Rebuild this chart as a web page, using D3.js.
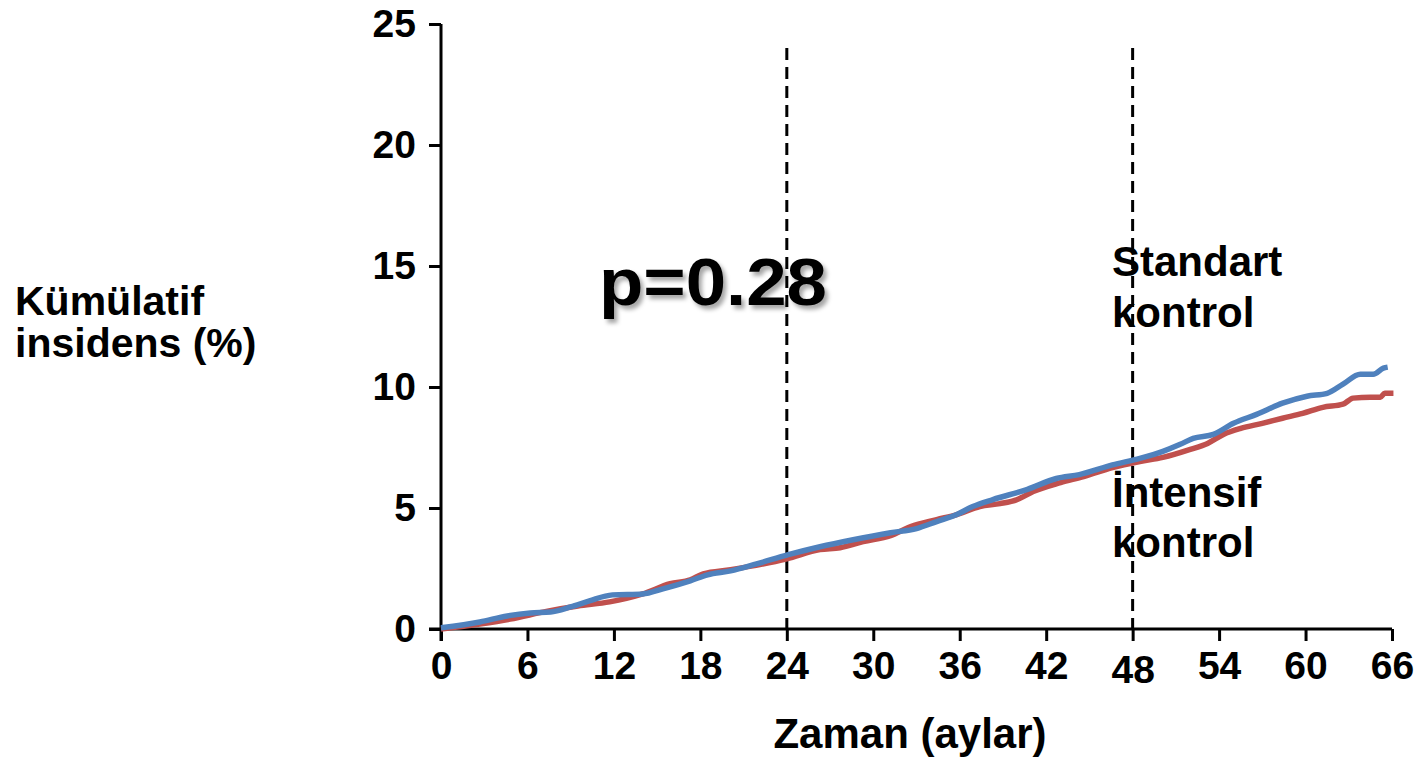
<!DOCTYPE html>
<html>
<head>
<meta charset="utf-8">
<script src="https://cdn.jsdelivr.net/npm/d3@7/dist/d3.min.js"></script>
<style>
  html, body { margin: 0; padding: 0; background: #fff; }
  svg { display: block; font-family: "Liberation Sans", Arial, Helvetica, sans-serif; font-weight: bold; }
</style>
</head>
<body>
<svg id="chart" width="1422" height="776"></svg>
<script>
// Cumulative incidence (%) over follow-up time (months)
const xTicks = [0, 6, 12, 18, 24, 30, 36, 42, 48, 54, 60, 66];
const yTicks = [0, 5, 10, 15, 20, 25];
const markerMonths = [24, 48];

// Standard control arm
const standardMonths = [0, 2.7, 4.6, 6.2, 7.6, 9.0, 10.3, 11.9, 14.0, 15.4, 17.3, 18.5, 20.1, 21.9, 24.1,
  26.3, 28.6, 31.2, 33.0, 34.4, 35.8, 36.9, 38.3, 40.7, 42.7, 44.3, 46.6, 48.5, 50.1, 51.3, 52.2,
  53.6, 55.0, 56.6, 58.4, 60.1, 61.5, 62.6, 63.8, 64.7, 65.4, 65.7];
const standardValues = [0.05, 0.29, 0.54, 0.66, 0.70, 0.91, 1.16, 1.41, 1.45, 1.66, 1.99, 2.24, 2.40, 2.69, 3.07,
  3.40, 3.69, 3.98, 4.15, 4.44, 4.73, 5.06, 5.35, 5.77, 6.22, 6.38, 6.78, 7.05, 7.34, 7.63, 7.88,
  8.04, 8.50, 8.87, 9.33, 9.62, 9.74, 10.12, 10.53, 10.53, 10.78, 10.82];

// Intensive control arm
const intensiveMonths = [0, 2.7, 4.8, 7.4, 9.5, 11.7, 14.0, 15.9, 17.3, 18.2, 20.1, 24.0, 26.3, 27.7, 29.3,
  31.2, 32.6, 34.4, 35.8, 37.4, 38.8, 40.0, 41.1, 43.0, 44.6, 46.6, 48.5, 50.1, 52.0, 53.2, 54.3,
  55.5, 57.0, 58.4, 59.8, 61.2, 62.6, 63.3, 64.5, 65.2, 65.5, 66.1];
const intensiveValues = [0, 0.21, 0.41, 0.74, 0.95, 1.12, 1.45, 1.87, 2.03, 2.28, 2.45, 2.90, 3.28, 3.36, 3.61,
  3.86, 4.23, 4.52, 4.73, 5.06, 5.18, 5.35, 5.68, 6.05, 6.30, 6.67, 6.92, 7.09, 7.42, 7.67, 8.04,
  8.29, 8.50, 8.71, 8.91, 9.16, 9.29, 9.54, 9.58, 9.58, 9.74, 9.74];

const svg = d3.select("#chart");

const x = d3.scaleLinear().domain([0, 66]).range([441, 1392]);
const y = d3.scaleLinear().domain([0, 25]).range([629, 24]);

const defs = svg.append("defs");
const shadow = defs.append("filter").attr("id", "soft-shadow")
  .attr("x", "-10%").attr("y", "-20%").attr("width", "130%").attr("height", "150%");
shadow.append("feDropShadow")
  .attr("dx", 3).attr("dy", 4).attr("stdDeviation", 2)
  .attr("flood-color", "#000").attr("flood-opacity", 0.35);

// Axes
const xAxis = d3.axisBottom(x).tickValues(xTicks).tickSize(12).tickSizeOuter(0).tickPadding(10);
const yAxis = d3.axisLeft(y).tickValues(yTicks).tickSize(12).tickSizeOuter(0).tickPadding(13);

const gx = svg.append("g").attr("transform", `translate(0,${y(0)})`).call(xAxis);
const gy = svg.append("g").attr("transform", `translate(${x(0)},0)`).call(yAxis);

[gx, gy].forEach(g => {
  g.select(".domain").attr("stroke", "#000").attr("stroke-width", 3);
  g.selectAll(".tick line").attr("stroke", "#000").attr("stroke-width", 3);
  g.selectAll(".tick text").attr("fill", "#000")
    .style("font-size", "39px").style("font-weight", "bold")
    .style("font-family", "'Liberation Sans', Arial, Helvetica, sans-serif");
});
// extend the y axis line down through the x axis
gy.select(".domain").attr("d", `M0,${y(25)}V${y(0) + 12}`);
gx.select(".domain").attr("d", `M${-12 + x(0)},0H${x(66)}`);
gx.selectAll(".tick text").filter(d => d === 48).attr("dy", "0.81em");

// Dashed reference lines
svg.append("g").selectAll("line")
  .data(markerMonths)
  .join("line")
  .attr("x1", d => x(d)).attr("x2", d => x(d))
  .attr("y1", 48).attr("y2", y(0))
  .attr("stroke", "#000").attr("stroke-width", 3)
  .attr("stroke-dasharray", "12,7");

// Series lines
const line = d3.line()
  .x(d => x(d[0]))
  .y(d => y(d[1]))
  .curve(d3.curveMonotoneX);

const intensive = intensiveMonths.map((m, i) => [m, intensiveValues[i]]);
const standard = standardMonths.map((m, i) => [m, standardValues[i]]);

svg.append("path").datum(intensive)
  .attr("d", line).attr("fill", "none")
  .attr("stroke", "#C0504D").attr("stroke-width", 5.5).attr("stroke-linejoin", "round");

svg.append("path").datum(standard)
  .attr("d", line).attr("fill", "none")
  .attr("stroke", "#4F81BD").attr("stroke-width", 5.5).attr("stroke-linejoin", "round");

// Texts
svg.append("text")
  .attr("transform", "translate(599,305) scale(1.1,1)")
  .attr("filter", "url(#soft-shadow)")
  .style("font-size", "66px")
  .text("p=0.28");

const annot = [
  { t: "Standart", x: 1112, y: 276 },
  { t: "kontrol", x: 1112, y: 327 },
  { t: "İntensif", x: 1112, y: 507 },
  { t: "kontrol", x: 1112, y: 557 }
];
svg.append("g").selectAll("text").data(annot).join("text")
  .attr("x", d => d.x).attr("y", d => d.y)
  .style("font-size", "42px")
  .text(d => d.t);

svg.append("text").attr("x", 15).attr("y", 315).style("font-size", "41px").text("Kümülatif");
svg.append("text").attr("x", 15).attr("y", 357).style("font-size", "41px").text("insidens (%)");

svg.append("text").attr("x", 910).attr("y", 748).attr("text-anchor", "middle")
  .style("font-size", "42px").text("Zaman (aylar)");
</script>
</body>
</html>
